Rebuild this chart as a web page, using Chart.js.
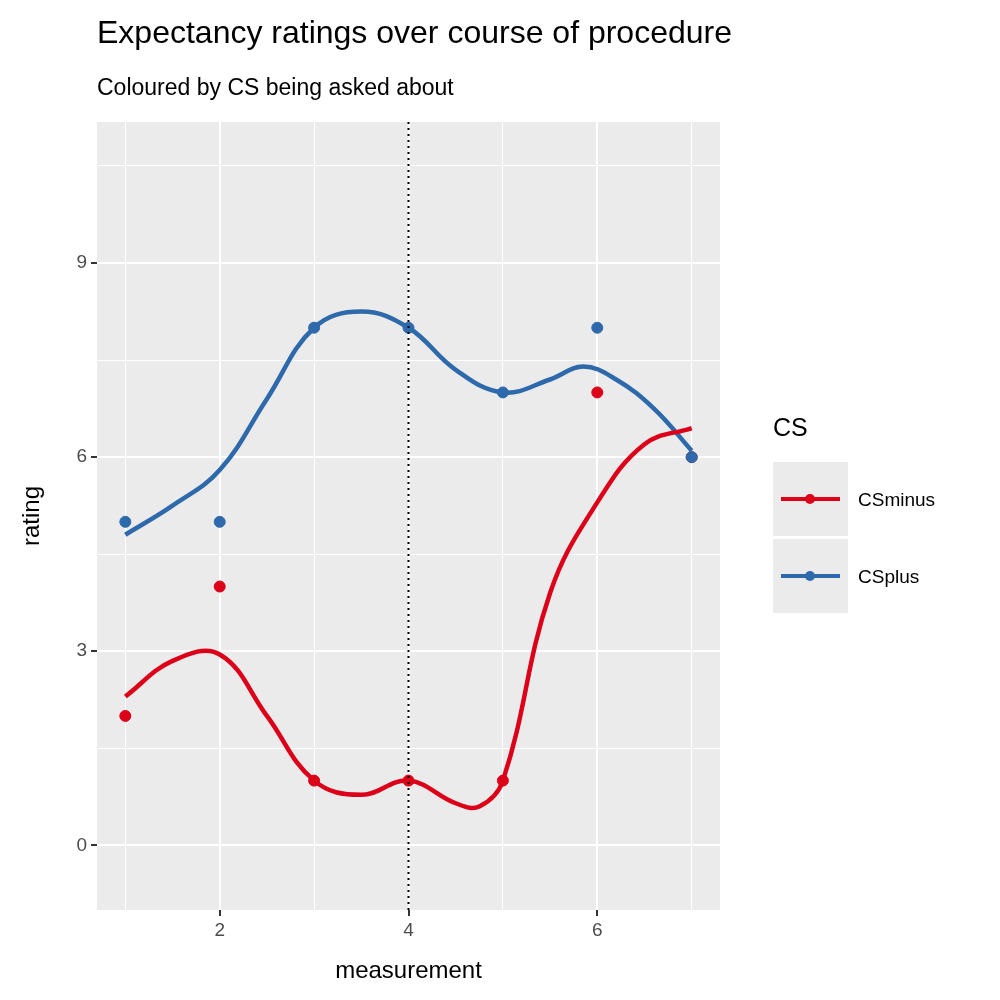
<!DOCTYPE html>
<html>
<head>
<meta charset="utf-8">
<script src="https://cdn.jsdelivr.net/npm/chart.js@4"></script>
<style>
  body { margin: 0; background: #fff; font-family: "Liberation Sans", Arial, sans-serif; }
  #wrap { position: relative; width: 1000px; height: 1000px; }
  canvas { position: absolute; left: 0; top: 0; }
  .t { position: absolute; white-space: nowrap; }
  .key { position: absolute; left: 773px; width: 75px; height: 74px; background: #ebebeb; }
  .key .ln { position: absolute; left: 8px; right: 8px; top: 35px; height: 4px; }
  .key .dot { position: absolute; left: 32px; top: 32px; width: 10px; height: 10px; border-radius: 50%; }
</style>
</head>
<body>
<div id="wrap">
  <canvas id="c" width="1000" height="1000"></canvas>
  <div class="t" style="left:97px;top:14px;font-size:32px;">Expectancy ratings over course of procedure</div>
  <div class="t" style="left:97px;top:74px;font-size:23px;">Coloured by CS being asked about</div>
  <div class="t" style="left:773px;top:413px;font-size:25px;">CS</div>
  <div class="key" style="top:462px;"><div class="ln" style="background:#dc0018"></div><div class="dot" style="background:#dc0018"></div></div>
  <div class="key" style="top:539px;"><div class="ln" style="background:#2e6aab"></div><div class="dot" style="background:#2e6aab"></div></div>
  <div class="t" style="left:858px;top:489px;font-size:19px;">CSminus</div>
  <div class="t" style="left:858px;top:566px;font-size:19px;">CSplus</div>
</div>
<script>
const RED = "#dc0018";
const BLUE = "#2e6aab";

// observed ratings
const measurement = [1, 2, 3, 4, 5, 6, 7];
const csMinus = [2, 4, 1, 1, 1, 7, 6];
const csPlus  = [5, 5, 8, 8, 7, 8, 6];

// smoothed curves
const smoothX      = [1, 1.5, 2, 2.5, 3, 3.5, 4, 4.5, 4.75, 5, 5.5, 6, 6.5, 7];
const smoothMinus  = [2.3, 2.85, 2.95, 2.0, 1.0, 0.78, 1.0, 0.65, 0.6, 1.0, 3.9, 5.3, 6.2, 6.45];
const smoothPlusX  = [1, 1.5, 2, 2.5, 3, 3.5, 4, 4.5, 5, 5.5, 5.85, 6.2, 6.6, 7];
const smoothPlus   = [4.8, 5.25, 5.8, 6.9, 8.0, 8.25, 8.0, 7.35, 7.0, 7.2, 7.4, 7.2, 6.75, 6.1];

const xTicks = [1, 2, 3, 4, 5, 6, 7];
const yTicks = [0, 1.5, 3, 4.5, 6, 7.5, 9, 10.5];
const X_MIN = 0.7, X_MAX = 7.3, Y_MIN = -1.0, Y_MAX = 11.18;
const vline = 4;

const pts = (xs, ys) => xs.map((x, i) => ({ x, y: ys[i] }));

const panelBg = {
  id: "panelBg",
  beforeDraw(chart) {
    const a = chart.chartArea, ctx = chart.ctx;
    ctx.save();
    ctx.fillStyle = "#ebebeb";
    ctx.fillRect(a.left, a.top, a.right - a.left, a.bottom - a.top);
    ctx.restore();
  }
};

const isMajorX = v => v % 2 === 0;
const isMajorY = v => v % 3 === 0;

// first dataset is drawn on top
new Chart(document.getElementById("c"), {
  type: "scatter",
  data: {
    datasets: [
      { data: [{ x: vline, y: Y_MIN }, { x: vline, y: Y_MAX }], showLine: true, borderColor: "#000",
        borderWidth: 2, borderDash: [2, 4], pointRadius: 0 },
      { data: pts(smoothX, smoothMinus), showLine: true, borderColor: RED, borderWidth: 4.5,
        tension: 0.4, pointRadius: 0 },
      { data: pts(smoothPlusX, smoothPlus), showLine: true, borderColor: BLUE, borderWidth: 4.5,
        tension: 0.4, pointRadius: 0 },
      { data: pts(measurement, csPlus), backgroundColor: BLUE, borderColor: BLUE, pointRadius: 5.5 },
      { data: pts(measurement, csMinus), backgroundColor: RED, borderColor: RED, pointRadius: 5.5 },
    ]
  },
  options: {
    responsive: false,
    animation: false,
    layout: { padding: { top: 122, right: 280, left: 0, bottom: 0 } },
    plugins: { legend: { display: false }, tooltip: { enabled: false } },
    scales: {
      x: {
        type: "linear", min: X_MIN, max: X_MAX,
        afterBuildTicks: s => { s.ticks = xTicks.map(v => ({ value: v })); },
        afterFit: s => { s.height = 90; },
        ticks: { color: "#4d4d4d", font: { size: 19 }, padding: 3,
                 callback: v => isMajorX(v) ? String(v) : "" },
        grid: { color: "#fff", lineWidth: c => isMajorX(c.tick.value) ? 2 : 1,
                tickColor: c => isMajorX(c.tick.value) ? "#333" : "rgba(0,0,0,0)", tickLength: 6, drawTicks: true },
        border: { display: false },
        title: { display: true, text: "measurement", color: "#000", font: { size: 24 }, padding: { top: 0, bottom: 14 } }
      },
      y: {
        type: "linear", min: Y_MIN, max: Y_MAX,
        afterBuildTicks: s => { s.ticks = yTicks.map(v => ({ value: v })); },
        afterFit: s => { s.width = 97; },
        ticks: { color: "#4d4d4d", font: { size: 19 }, padding: 4,
                 callback: v => isMajorY(v) ? String(v) : "" },
        grid: { color: "#fff", lineWidth: c => isMajorY(c.tick.value) ? 2 : 1,
                tickColor: c => isMajorY(c.tick.value) ? "#333" : "rgba(0,0,0,0)", tickLength: 6 },
        border: { display: false },
        title: { display: true, text: "rating", color: "#000", font: { size: 24 }, padding: { top: 18, bottom: 0 } }
      }
    }
  },
  plugins: [panelBg]
});
</script>
</body>
</html>
